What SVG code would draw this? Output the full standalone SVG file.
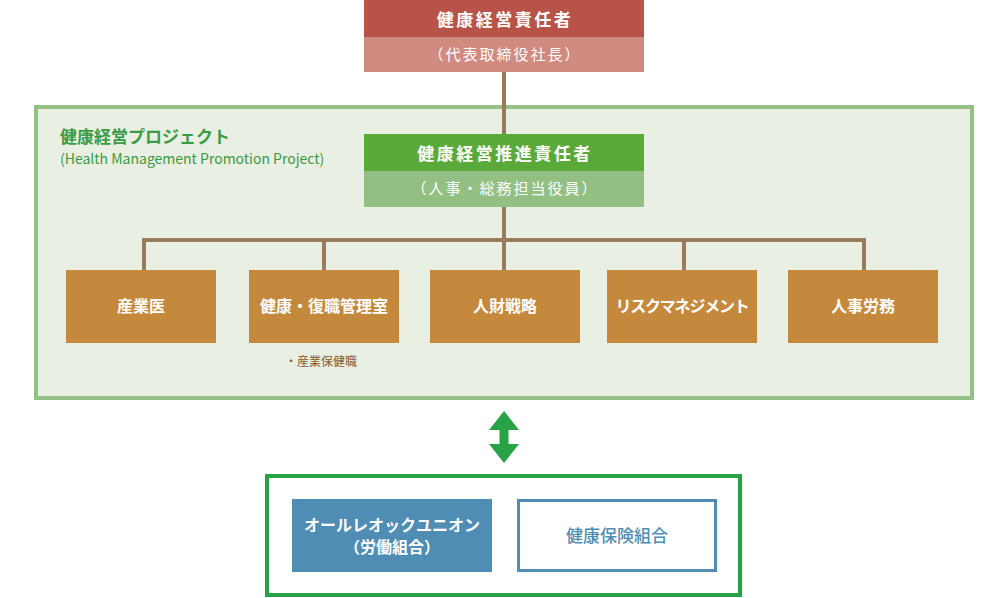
<svg xmlns="http://www.w3.org/2000/svg" width="1008" height="598" viewBox="0 0 1008 598">
<style>
text{font-family:"Noto Sans CJK JP","Noto Sans",sans-serif;}
.w{fill:#fff;text-anchor:middle;}
.b{font-weight:bold;}
.dept rect{fill:#c4893d;}
.dept text{fill:#fff;font-size:16px;font-weight:bold;text-anchor:middle;}
.conn{stroke:#9a7b5a;stroke-width:4;fill:none;}
</style>
<rect width="1008" height="598" fill="#fff"/>
<g id="project">
<rect x="36" y="107" width="936" height="291" fill="#e9efe2" stroke="#93c083" stroke-width="4"/>
<text x="60" y="143" font-size="17" font-weight="bold" fill="#3a9a45">健康経営プロジェクト</text>
<text x="60" y="164" font-size="14" fill="#3a9a45">(Health Management Promotion Project)</text>
</g>
<g id="connectors">
<line class="conn" x1="504" y1="72" x2="504" y2="134"/>
<line class="conn" x1="504" y1="207" x2="504" y2="270"/>
<polyline class="conn" points="144,270 144,240 864,240 864,270"/>
<line class="conn" x1="324" y1="240" x2="324" y2="270"/>
<line class="conn" x1="684" y1="240" x2="684" y2="270"/>
<path d="M504,411 L519,430 L508.5,430 L508.5,444 L519,444 L504,463 L489,444 L499.5,444 L499.5,430 L489,430 Z" fill="#27a345"/>
</g>
<g id="ceo">
<rect x="364" y="0" width="280" height="37" fill="#b85349"/>
<rect x="364" y="37" width="280" height="35" fill="#d08a80"/>
<text class="w b" x="505" y="25.5" font-size="17" letter-spacing="2.5">健康経営責任者</text>
<text class="w" x="505" y="60" font-size="15" letter-spacing="2">（代表取締役社長）</text>
</g>
<g id="promoter">
<rect x="364" y="134" width="280" height="37" fill="#5aaa3a"/>
<rect x="364" y="171" width="280" height="36" fill="#93bf83"/>
<text class="w b" x="505" y="160" font-size="17" letter-spacing="2.5">健康経営推進責任者</text>
<text class="w" x="505" y="194" font-size="15" letter-spacing="2">（人事・総務担当役員）</text>
</g>
<g id="dept1" class="dept"><rect x="66" y="270" width="150" height="73"/><text x="141" y="312">産業医</text></g>
<g id="dept2" class="dept"><rect x="249" y="270" width="150" height="73"/><text x="324" y="312">健康・復職管理室</text></g>
<g id="dept3" class="dept"><rect x="430" y="270" width="150" height="73"/><text x="505" y="312">人財戦略</text></g>
<g id="dept4" class="dept"><rect x="607" y="270" width="150" height="73"/><text x="682" y="312" letter-spacing="-1.2">リスクマネジメント</text></g>
<g id="dept5" class="dept"><rect x="788" y="270" width="150" height="73"/><text x="863" y="312">人事労務</text></g>
<g id="note"><text x="285" y="366" font-size="12" fill="#8a5a2a">・産業保健職</text></g>
<g id="unions">
<rect x="267" y="476" width="473" height="119" fill="#fff" stroke="#27a345" stroke-width="4"/>
</g>
<g id="labor">
<rect x="292" y="499" width="200" height="73" fill="#4f8db5"/>
<text class="w b" x="392" y="531" font-size="16">オールレオックユニオン</text>
<text class="w b" x="392" y="553" font-size="16">（労働組合）</text>
</g>
<g id="insurance">
<rect x="518.5" y="500.5" width="197" height="70" fill="#fff" stroke="#4f8db5" stroke-width="3"/>
<text x="617" y="542" font-size="17" font-weight="500" fill="#4f8db5" text-anchor="middle">健康保険組合</text>
</g>
</svg>
